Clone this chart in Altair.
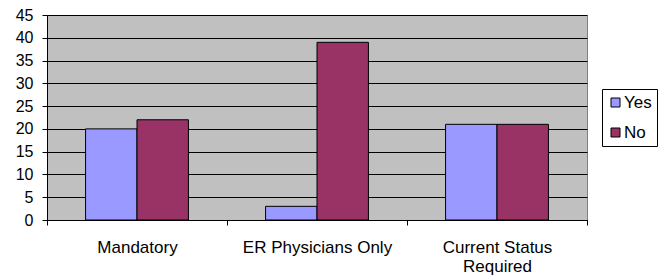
import altair as alt
import pandas as pd

categories = ["Mandatory", "ER Physicians Only", "Current Status Required"]
yes_values = [20, 3, 21]
no_values = [22, 39, 21]
series = ["Yes", "No"]
colors = ["#9999FF", "#993366"]
y_ticks = [0, 5, 10, 15, 20, 25, 30, 35, 40, 45]

rows = []
for c, y, n in zip(categories, yes_values, no_values):
    rows.append({"category": c, "series": "Yes", "value": y})
    rows.append({"category": c, "series": "No", "value": n})
df = pd.DataFrame(rows)

FONT = "Liberation Sans"

bars = alt.Chart(df).mark_bar(stroke="black", strokeWidth=1).encode(
    x=alt.X("category:N", sort=categories, title=None,
            scale=alt.Scale(paddingInner=0, paddingOuter=0),
            axis=alt.Axis(labelAngle=0, tickBand="extent", domainColor="black",
                          tickColor="black", tickSize=5, labelFont=FONT, labelFontSize=17,
                          labelColor="black", labelPadding=14, labelLineHeight=19,
                          labelExpr="datum.value == 'Current Status Required' ? ['Current Status', 'Required'] : datum.value")),
    xOffset=alt.XOffset("series:N", sort=series,
                        scale=alt.Scale(paddingInner=0, paddingOuter=0.75)),
    y=alt.Y("value:Q", title=None,
            scale=alt.Scale(domain=[0, 45], nice=False),
            axis=alt.Axis(values=y_ticks, grid=True, gridColor="black", gridWidth=1,
                          gridOpacity=1, domainColor="black", tickColor="black",
                          tickSize=5, labelFont=FONT, labelFontSize=16,
                          labelColor="black", labelPadding=9)),
    color=alt.Color("series:N", sort=series, title=None,
                    scale=alt.Scale(domain=series, range=colors),
                    legend=alt.Legend(orient="none", legendX=555, legendY=74,
                                      symbolType="square", symbolSize=81,
                                      symbolStrokeColor="black", symbolStrokeWidth=1,
                                      symbolOpacity=1, labelFont=FONT, labelFontSize=17,
                                      labelColor="black", strokeColor="black",
                                      fillColor="white", padding=5, rowPadding=12,
                                      labelOffset=0)),
)

chart = bars.properties(
    width=540, height=205,
    autosize=alt.AutoSizeParams(type="none"),
    padding={"left": 39, "top": 7, "right": 72, "bottom": 57},
    background="white",
).configure_view(fill="#C0C0C0", stroke="#808080", strokeWidth=1)

chart.save("out.html", embed_options={"renderer": "svg", "actions": False})
